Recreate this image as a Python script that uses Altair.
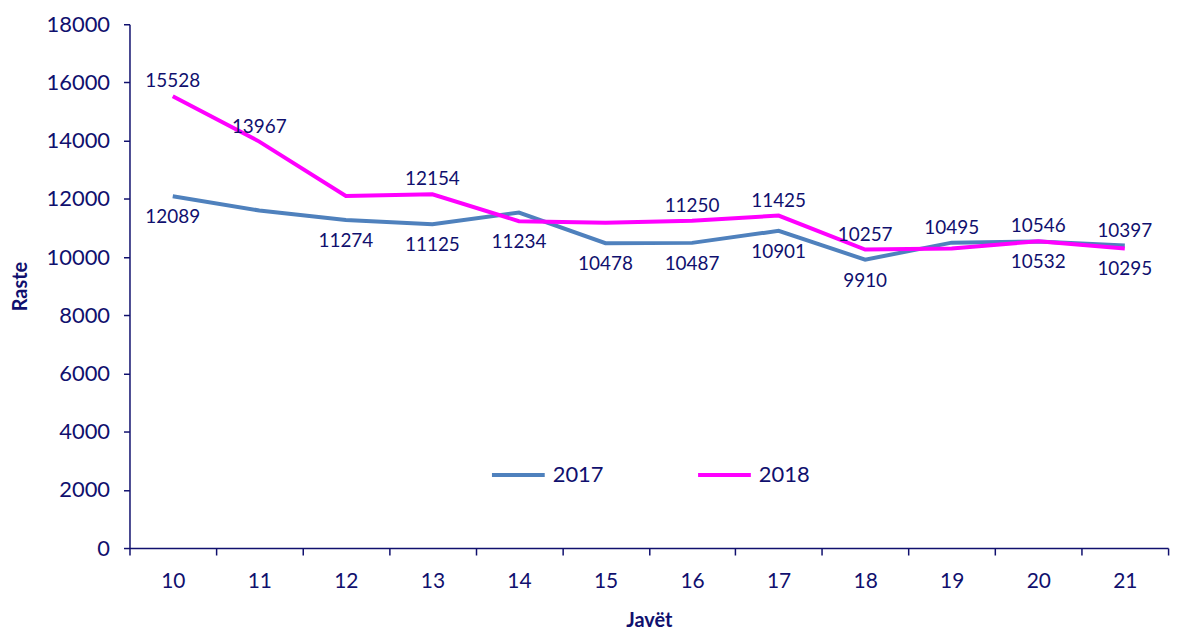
import altair as alt
import pandas as pd

weeks = [10, 11, 12, 13, 14, 15, 16, 17, 18, 19, 20, 21]
v2017 = [12089, 11600, 11274, 11125, 11530, 10478, 10487, 10901, 9910, 10495, 10532, 10397]
v2018 = [15528, 13967, 12100, 12154, 11234, 11180, 11250, 11425, 10257, 10290, 10546, 10295]
lab2017 = ["12089", "", "11274", "11125", "", "10478", "10487", "10901", "9910", "10495", "10532", "10397"]
lab2018 = ["15528", "13967", "", "12154", "11234", "", "11250", "11425", "10257", "", "10546", "10295"]
series = ["2017", "2018"]
y_ticks = list(range(0, 18001, 2000))

NAVY = "#10106E"
FONT = "Lato"

rows = []
for i, w in enumerate(weeks):
    a, b = v2017[i], v2018[i]
    rows.append({"week": w, "year": "2017", "value": a, "label": lab2017[i],
                 "top": a >= b})
    rows.append({"week": w, "year": "2018", "value": b, "label": lab2018[i],
                 "top": b > a})
df = pd.DataFrame(rows)

x_enc = alt.X("week:O", scale=alt.Scale(type="band", paddingInner=0, paddingOuter=0),
              axis=alt.Axis(title="Javët", labelAngle=0, tickBand="extent",
                            domainColor=NAVY, tickColor=NAVY, tickSize=7,
                            labelColor=NAVY, labelFontSize=21, labelFont=FONT,
                            labelPadding=16, titleColor=NAVY, titleFont=FONT,
                            titleFontSize=20, titleFontWeight="bold",
                            titlePadding=19, grid=False, domainWidth=1.5, tickWidth=1.5))
y_enc = alt.Y("value:Q", scale=alt.Scale(domain=[0, 18000], nice=False),
              axis=alt.Axis(title="Raste", values=y_ticks, format="d",
                            domainColor=NAVY, tickColor=NAVY, tickSize=6,
                            labelColor=NAVY, labelFontSize=22, labelFont=FONT,
                            labelPadding=14, titleColor=NAVY, titleFont=FONT,
                            titleFontSize=20, titleFontWeight="bold",
                            titlePadding=16, grid=False, domainWidth=1.5, tickWidth=1.5))

color = alt.Color("year:N", scale=alt.Scale(domain=series, range=["#4F81BD", "#FF00FF"]),
                  legend=alt.Legend(title=None, orient="none", legendX=362, legendY=424,
                                    direction="horizontal", symbolType="stroke",
                                    symbolSize=2809, symbolStrokeWidth=4,
                                    labelFontSize=22, labelFont=FONT, labelColor=NAVY,
                                    labelOffset=6, columnPadding=86))

base = alt.Chart(df)
lines = base.mark_line(strokeWidth=4).encode(x=x_enc, y=y_enc, color=color)

text_top = base.transform_filter("datum.top").mark_text(
    fontSize=19, font=FONT, color=NAVY, baseline="middle", dy=-15
).encode(x="week:O", y="value:Q", text="label:N")
text_bot = base.transform_filter("!datum.top").mark_text(
    fontSize=19, font=FONT, color=NAVY, baseline="middle", dy=21
).encode(x="week:O", y="value:Q", text="label:N")

chart = alt.layer(lines, text_top, text_bot).properties(
    width=1043, height=526,
    padding={"left": 122, "top": 15, "right": 20, "bottom": 84},
    autosize=alt.AutoSizeParams(type="none"),
).configure_view(stroke=None)

chart.save("out.html", embed_options={"renderer": "svg", "actions": False})
